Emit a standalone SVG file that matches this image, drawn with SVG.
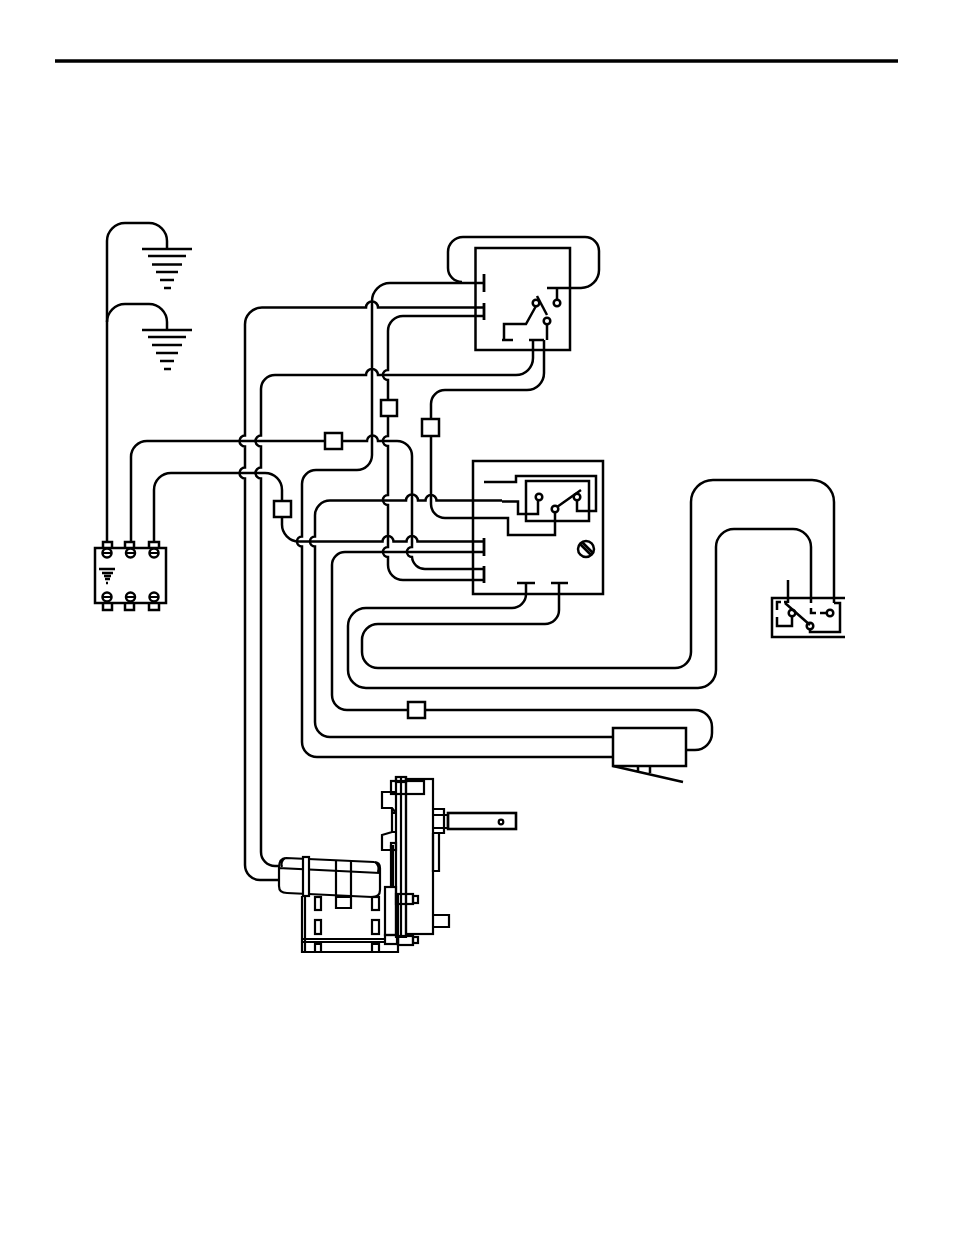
<svg xmlns="http://www.w3.org/2000/svg" width="954" height="1235" viewBox="0 0 954 1235">
<style>
path,line,rect,circle{fill:none;stroke:#000;stroke-width:2.5}
.w{fill:#fff}
.t{stroke-width:1.8}
.h{stroke-width:2.8}
.g{stroke-width:2.3}
.m{stroke-width:2.2}
</style>
<rect width="954" height="1235" style="fill:#fff;stroke:none"/>
<line x1="55" y1="61" x2="898" y2="61" style="stroke-width:3.4"/>
<g id="connectors">
<path d="M107 542V241A18 18 0 0 1 125 223H149A18 18 0 0 1 167 241V249"/>
<path d="M107 322A18 18 0 0 1 125 304H149A18 18 0 0 1 167 322V330"/>
<path d="M131 542V457A16 16 0 0 1 147 441H325M342 441H367a5.500 5.500 0 0 1 11 0H397A15 15 0 0 1 412 456V547a5 5 0 0 0 0 10A13 13 0 0 0 425 569H484"/>
<path d="M154 542V490A17 17 0 0 1 171 473H265A17 17 0 0 1 282 490V501M282 517V524A17 17 0 0 0 299 541.500H382.500a5.500 5.500 0 0 1 11 0H406.500a5.500 5.500 0 0 1 11 0H484"/>
<path d="M484 283H390A18 18 0 0 0 372 301V455A15 15 0 0 1 357 470H316A14 14 0 0 0 302 484V536.500a5 5 0 0 0 0 10V742A15 15 0 0 0 317 757H613"/>
<path d="M484 307.500H378a6 6 0 0 0 -12 0H262A17 17 0 0 0 245 325V435.500a5 5 0 0 0 0 11V467.500a5 5 0 0 0 0 11V865A15 15 0 0 0 260 880H279"/>
<path d="M484 316H403A15 15 0 0 0 388 331V370a5 5 0 0 0 0 10V400M388 416V436a5 5 0 0 0 0 10V495a5 5 0 0 0 0 10V547a5 5 0 0 0 0 10V565A15 15 0 0 0 403 580H484"/>
<path d="M533 340V358A17 17 0 0 1 516 375H378a6 6 0 0 0 -12 0H275A14 14 0 0 0 261 389V435.500a5 5 0 0 0 0 11V467.500a5 5 0 0 0 0 11V852A14 14 0 0 0 275 866H280"/>
<path d="M544 340V373A17 17 0 0 1 527 390H445A14 14 0 0 0 431 404V419M431 436V504A14 14 0 0 0 445 518H508V535H555V512"/>
<path d="M502 500.500H436.500a5.500 5.500 0 0 0 -11 0H418a6 6 0 0 0 -12 0H330A15 15 0 0 0 315 516V536.500a5 5 0 0 0 0 10V722A15 15 0 0 0 330 737H613"/>
<path d="M484 552H345A13 13 0 0 0 332 565V695A15 15 0 0 0 347 710H408M425 710H695A17 17 0 0 1 712 727V733A17 17 0 0 1 695 750H686"/>
<path d="M526 583V594A14 14 0 0 1 512 608H366A18 18 0 0 0 348 626V670A18 18 0 0 0 366 688H698A18 18 0 0 0 716 670V547A18 18 0 0 1 734 529H793A18 18 0 0 1 811 547V603"/>
<path d="M559 583V610A14 14 0 0 1 545 624H378A16 16 0 0 0 362 640V652A16 16 0 0 0 378 668H675A16 16 0 0 0 691 652V502A22 22 0 0 1 713 480H812A22 22 0 0 1 834 502V603"/>
<path d="M462 282A14 14 0 0 1 448 268V252A15 15 0 0 1 463 237H585A14 14 0 0 1 599 251V270A18 18 0 0 1 581 288H547"/>
</g>
<g id="ground-1">
<path class="g" d="M142 249H192M148 256H186M152 264.500H182M156 272H178M160 280H174M164 288H171"/>
</g>
<g id="ground-2">
<path class="g" d="M142 330H192M148 337H186M152 345H182M156 353H178M160 361H174M164 369H171"/>
</g>
<g id="block">
<rect x="95" y="548" width="71" height="55"/>
<path d="M103 548V542H112V548M125 548V542H134V548M149 548V542H159V548M103 603V610H112V603M125 603V610H134V603M149 603V610H159V603"/>
<circle class="w" cx="107" cy="553" r="4.500"/><circle class="w" cx="130.500" cy="553" r="4.500"/><circle class="w" cx="154" cy="553" r="4.500"/>
<circle class="w" cx="107" cy="597" r="4.500"/><circle class="w" cx="130.500" cy="597" r="4.500"/><circle class="w" cx="154" cy="597" r="4.500"/>
<path class="t" d="M103 553H111M126 553H135M150 553H158M103 597H111M126 597H135M150 597H158"/>
<path class="g" d="M99 569H115M102 573H113M104 576H111M105 579H110M106 583H108"/>
</g>
<g id="relay-upper">
<rect x="475.500" y="248" width="94.500" height="102"/>
<path class="h" d="M484 274V292M484 303V320"/>
<path d="M557 288V300"/><circle cx="557" cy="303" r="3.300"/>
<path d="M537 296L547 315"/><circle cx="536" cy="303" r="3.300"/><circle cx="547" cy="321" r="3.300"/>
<path d="M536 306L526 324H504V340M502 340H513M547 324V340M529 340H544"/>
</g>
<g id="relay-lower">
<rect x="473" y="461" width="130" height="133"/>
<path class="h" d="M484 538V556M484 566V583"/>
<path d="M517 583H535M551 583H568"/>
<path d="M484 482H516V476H596V511H577V500"/>
<rect x="526" y="481" width="63" height="40"/>
<circle cx="539" cy="497" r="3.300"/><circle cx="555" cy="509" r="3.300"/><circle cx="577" cy="497" r="3.300"/>
<path d="M557 507L581 490M502 501.500H518V514H538V500"/>
<circle cx="586" cy="549" r="8"/>
<path d="M580 544L591 555M582 542L593 553"/>
</g>
<g id="switch">
<path d="M845 598H772V637H845"/>
<path d="M788 580V603M785 603L810 625"/>
<circle cx="792" cy="613" r="3.300"/><circle cx="810" cy="626" r="3.300"/><circle cx="830" cy="613" r="3.300"/>
<path d="M777 610V602H781M784 602H787M777 617V626H792V616"/>
<path d="M811 608V613H816M820 613H826"/>
<path d="M834 603H840V632H810V629"/>
</g>
<g id="splice-1"><rect class="w" x="325" y="433" width="17" height="16"/></g>
<g id="splice-2"><rect class="w" x="381" y="400" width="16" height="16"/></g>
<g id="splice-3"><rect class="w" x="422" y="419" width="17" height="17"/></g>
<g id="splice-4"><rect class="w" x="274" y="501" width="17" height="16"/></g>
<g id="splice-5"><rect class="w" x="408" y="702" width="17" height="16"/></g>
<g id="sensor">
<rect x="613" y="728" width="73" height="38"/>
<path d="M613 766L683 782M638 766V771M650 766V773"/>
</g>
<g id="motor">
<path class="m" d="M302 896V952H398V935M305 896V952M302 939H385M302 942H385"/>
<rect class="m" x="315" y="897" width="6" height="13"/><rect class="m" x="315" y="920" width="6" height="14"/><path class="m" d="M315 952V944H321V952"/>
<rect class="m" x="372" y="897" width="7" height="13"/><rect class="m" x="372" y="920" width="7" height="14"/><path class="m" d="M372 952V944H379V952"/>
<path class="m" d="M279 868V886Q279 893 287 893L372 897Q380 897 380 890V868Q380 862 374 862L286 858Q279 858 279 868L380 873"/>
<path class="m" d="M285 858Q280 862 282 867M375 862Q380 866 378 872"/>
<rect class="w m" x="303" y="857" width="6" height="39"/>
<path class="m" d="M336 860V898M351 861V898M336 898V908H351V898M336 897H351"/>
<rect class="m" x="385" y="887" width="11" height="48"/>
<rect class="m" x="385" y="935" width="12" height="9"/>
<path class="m" d="M391 845V887M393 845V887"/>
<rect class="m" x="391" y="843" width="5" height="7"/>
<rect class="m" x="406" y="779" width="27" height="155"/>
<path class="m" d="M396 777H406V937H396ZM401 777V937M398 894V945"/>
<rect class="m" x="396" y="777" width="10" height="5"/>
<rect class="m" x="391" y="781" width="33" height="13"/>
<path class="m" d="M396 792H382V808H392L396 813M392 808V813H396M396 832H392L382 835V850H396M392 813V832"/>
<path class="m" d="M433 809H444V833H433M433 815H448V828H433M433 833V871H439V833"/>
<rect x="448" y="813" width="68" height="16" style="stroke-width:2.6"/>
<circle class="m" cx="501" cy="822" r="2.300"/>
<path class="m" d="M433 915H449V927H433"/>
<rect class="m" x="396" y="894" width="17" height="10"/><rect class="m" x="413" y="896" width="5" height="7"/>
<rect class="m" x="398" y="936" width="15" height="9"/><rect class="m" x="413" y="937" width="5" height="6"/>
</g>
</svg>
